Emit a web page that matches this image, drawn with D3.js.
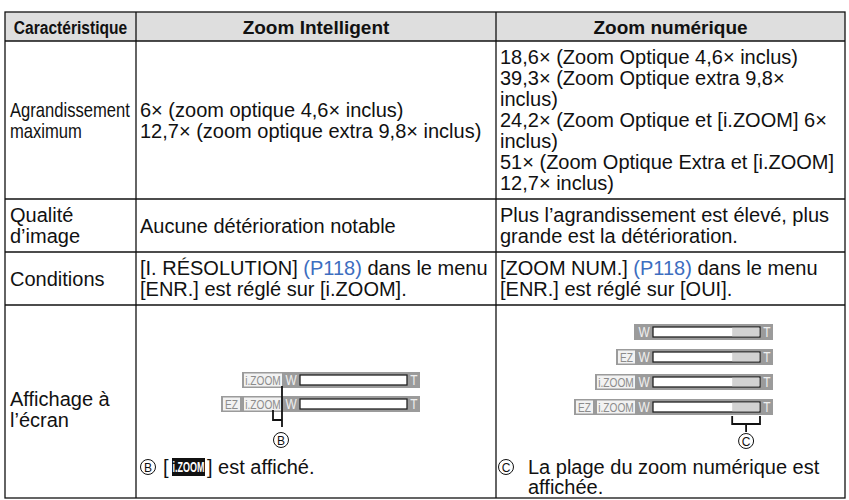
<!DOCTYPE html>
<html><head><meta charset="utf-8">
<script src="https://cdn.jsdelivr.net/npm/d3@7"></script>
<style>
body{margin:0;background:#fff}
svg{display:block}
text{font-family:"Liberation Sans",Arial,sans-serif;fill:#111}
</style>
</head><body>
<svg id="chart" width="849" height="500"></svg>
<script>
// ---------- data ----------
const headers = ["Caractéristique", "Zoom Intelligent", "Zoom numérique"];
const rowLabels = [["Agrandissement", "maximum"], ["Qualité", "d’image"], ["Conditions"], ["Affichage à", "l’écran"]];
const narrowLabels = ["Agrandissement", "maximum"];
const intelligentText = [
  ["6× (zoom optique 4,6× inclus)", "12,7× (zoom optique extra 9,8× inclus)"],
  ["Aucune détérioration notable"],
  [["[I. RÉSOLUTION] ", "(P118)", " dans le menu"], "[ENR.] est réglé sur [i.ZOOM]."]
];
const numericText = [
  ["18,6× (Zoom Optique 4,6× inclus)", "39,3× (Zoom Optique extra 9,8×", "inclus)",
   "24,2× (Zoom Optique et [i.ZOOM] 6×", "inclus)", "51× (Zoom Optique Extra et [i.ZOOM]", "12,7× inclus)"],
  ["Plus l’agrandissement est élevé, plus", "grande est la détérioration."],
  [["[ZOOM NUM.] ", "(P118)", " dans le menu"], "[ENR.] est réglé sur [OUI]."]
];
const linkLabel = "(P118)";
const intelligentBars = [["i.ZOOM"], ["EZ", "i.ZOOM"]];
const numericBars = [[], ["EZ"], ["i.ZOOM"], ["EZ", "i.ZOOM"]];
const digitalRange = [0.74, 1];     // share of the zoom bar that is digital zoom
const noteB = ["B", "[", "i.ZOOM", "] est affiché."];
const noteC = ["C", "La plage du zoom numérique est", "affichée."];

// ---------- layout ----------
const FS = 20, LH = 21, PAD = 11;
const svg = d3.select("#chart");
const colEdges = [5, 136, 496, 845];
const colScale = d3.scaleOrdinal().domain([0, 1, 2, 3]).range(colEdges);
const headerTop = 12, headerH = 29, tableBottom = 498;
const lineCounts = [0, 1, 2].map(i => Math.max(rowLabels[i].length, intelligentText[i].length, numericText[i].length));
const rowTops = [headerTop + headerH];
lineCounts.forEach(n => rowTops.push(rowTops[rowTops.length - 1] + n * LH + PAD));
rowTops.push(tableBottom);
const rowScale = d3.scaleOrdinal().domain([0, 1, 2, 3, 4]).range(rowTops);

// header background
svg.append("rect").attr("x", colScale(0)).attr("y", headerTop)
  .attr("width", colScale(3) - colScale(0)).attr("height", headerH).attr("fill", "#dedede");

// header text
headers.forEach((h, i) => {
  const cx = (colScale(i) + colScale(i + 1)) / 2;
  const t = svg.append("text").attr("font-weight", "bold").attr("font-size", 19)
    .attr("text-anchor", "middle").text(h);
  if (i === 0) t.attr("transform", `translate(${cx},${headerTop + headerH / 2 + 7}) scale(0.82,1)`);
  else t.attr("x", cx).attr("y", headerTop + headerH / 2 + 7);
});

function lineY(row, n, i) {
  const top = rowScale(row), h = rowScale(row + 1) - top;
  return top + (h - n * LH) / 2 + LH * (i + 0.5) + 7;
}
function writeLine(x, y, line) {
  const t = svg.append("text").attr("x", x).attr("y", y).attr("font-size", FS);
  const segs = Array.isArray(line) ? line : [line];
  segs.forEach(s => t.append("tspan").text(s).style("fill", s === linkLabel ? "#3d6ec0" : "#111"));
  return t;
}

// row labels
rowLabels.forEach((lines, r) => {
  lines.forEach((l, i) => {
    const y = lineY(r, lines.length, i) + (r === 3 ? 8 : 0);
    if (narrowLabels.includes(l)) {
      svg.append("text").attr("font-size", FS)
        .attr("transform", `translate(${colScale(0) + 5},${y}) scale(0.83,1)`).text(l);
    } else writeLine(colScale(0) + 5, y, l);
  });
});
// body text
intelligentText.forEach((lines, r) => lines.forEach((l, i) => writeLine(colScale(1) + 4, lineY(r, lines.length, i), l)));
numericText.forEach((lines, r) => lines.forEach((l, i) => writeLine(colScale(2) + 4, lineY(r, lines.length, i), l)));

// ---------- zoom bar icons ----------
const BAR_W = 107, BOX_W = {"i.ZOOM": 38, "EZ": 17};
function drawBars(rows, rightX, centers) {
  const barScale = d3.scaleLinear().domain([0, 1]).range([rightX - 13 - BAR_W, rightX - 13]);
  rows.forEach((labels, i) => {
    const c = centers[i];
    let x = barScale(0) - 18;
    const boxes = [];
    labels.slice().reverse().forEach(l => { x -= BOX_W[l]; boxes.unshift({l, x}); x -= 4; });
    const left = labels.length ? boxes[0].x - 2 : barScale(0) - 19;
    const g = svg.append("g");
    g.append("rect").attr("x", left).attr("y", c - 8).attr("width", rightX - left).attr("height", 16).attr("fill", "#9b9b9b");
    boxes.forEach(b => {
      g.append("rect").attr("x", b.x).attr("y", c - 6.5).attr("width", BOX_W[b.l]).attr("height", 13).attr("fill", "#f2f2f2");
      g.append("text").attr("font-size", 13).style("fill", "#8c8c8c")
        .attr("text-anchor", "middle")
        .attr("transform", `translate(${b.x + BOX_W[b.l] / 2},${c + 5}) scale(0.78,1)`).text(b.l);
    });
    g.append("text").attr("font-size", 14).style("fill", "#eeeeee").attr("text-anchor", "middle")
      .attr("transform", `translate(${barScale(0) - 9},${c + 5}) scale(0.85,1)`).text("W");
    g.append("text").attr("font-size", 14).style("fill", "#eeeeee").attr("text-anchor", "middle")
      .attr("transform", `translate(${rightX - 6},${c + 5}) scale(0.85,1)`).text("T");
    g.append("rect").attr("x", barScale(0)).attr("y", c - 5).attr("width", BAR_W).attr("height", 10)
      .attr("fill", "#fff").attr("stroke", "#222").attr("stroke-width", 1.3);
  });
  return barScale;
}
const r4 = rowScale(3);
// intelligent zoom column
const bsB = drawBars(intelligentBars, 420, [r4 + 75, r4 + 99]);
// numeric zoom column (with digital section)
const numCenters = [r4 + 27, r4 + 52, r4 + 77, r4 + 102];
const bsC = drawBars(numericBars, 773, numCenters);
numCenters.forEach(c => {
  svg.append("rect").attr("x", bsC(digitalRange[0])).attr("y", c - 4.3)
    .attr("width", bsC(digitalRange[1]) - bsC(digitalRange[0]) - 0.7).attr("height", 8.6).attr("fill", "#d2d2d2");
});

// bracket B
const bx = bsB(0) - 18;
svg.append("path").attr("fill", "none").attr("stroke", "#111").attr("stroke-width", 1.8)
  .attr("d", `M${bx},${r4 + 81} V${r4 + 122} M${bx - 9},${r4 + 105} V${r4 + 115} H${bx}`);
function circled(x, y, ch) {
  svg.append("circle").attr("cx", x).attr("cy", y).attr("r", 7.5).attr("fill", "none").attr("stroke", "#111").attr("stroke-width", 1);
  svg.append("text").attr("x", x).attr("y", y + 4.5).attr("font-size", 12).attr("text-anchor", "middle").text(ch);
}
circled(bx - 1, r4 + 135, noteB[0]);
// bracket C
const c1 = bsC(digitalRange[0]), c2 = bsC(digitalRange[1]), cm = (c1 + c2) / 2;
svg.append("path").attr("fill", "none").attr("stroke", "#111").attr("stroke-width", 1.8)
  .attr("d", `M${c1},${r4 + 111} V${r4 + 119} H${c2} V${r4 + 111} M${cm},${r4 + 119} V${r4 + 127}`);
circled(cm, r4 + 136, noteC[0]);

// notes
const ny1 = r4 + 169, ny2 = r4 + 189;
circled(colScale(1) + 12, ny1 - 7, noteB[0]);
svg.append("text").attr("x", colScale(1) + 27).attr("y", ny1).attr("font-size", FS).text(noteB[1]);
svg.append("rect").attr("x", colScale(1) + 36).attr("y", ny1 - 16).attr("width", 33).attr("height", 18).attr("fill", "#111");
svg.append("text").attr("font-size", 14).attr("font-weight", "bold").style("fill", "#fff").attr("text-anchor", "middle")
  .attr("transform", `translate(${colScale(1) + 52.5},${ny1 - 2}) scale(0.64,1)`).text(noteB[2]);
svg.append("text").attr("x", colScale(1) + 71).attr("y", ny1).attr("font-size", FS).text(noteB[3]);
circled(colScale(2) + 10, ny1 - 7, noteC[0]);
svg.append("text").attr("x", colScale(2) + 32).attr("y", ny1).attr("font-size", FS).text(noteC[1]);
svg.append("text").attr("x", colScale(2) + 32).attr("y", ny2).attr("font-size", FS).text(noteC[2]);

// ---------- grid lines ----------
const grid = svg.append("g").attr("stroke", "#111").attr("stroke-width", 1.3);
grid.append("rect").attr("x", colScale(0)).attr("y", headerTop).attr("width", colScale(3) - colScale(0))
  .attr("height", tableBottom - headerTop).attr("fill", "none");
[1, 2].forEach(i => grid.append("line").attr("x1", colScale(i)).attr("x2", colScale(i)).attr("y1", headerTop).attr("y2", tableBottom));
[0, 1, 2, 3].forEach(i => grid.append("line").attr("x1", colScale(0)).attr("x2", colScale(3)).attr("y1", rowScale(i)).attr("y2", rowScale(i)));
</script>
</body></html>
